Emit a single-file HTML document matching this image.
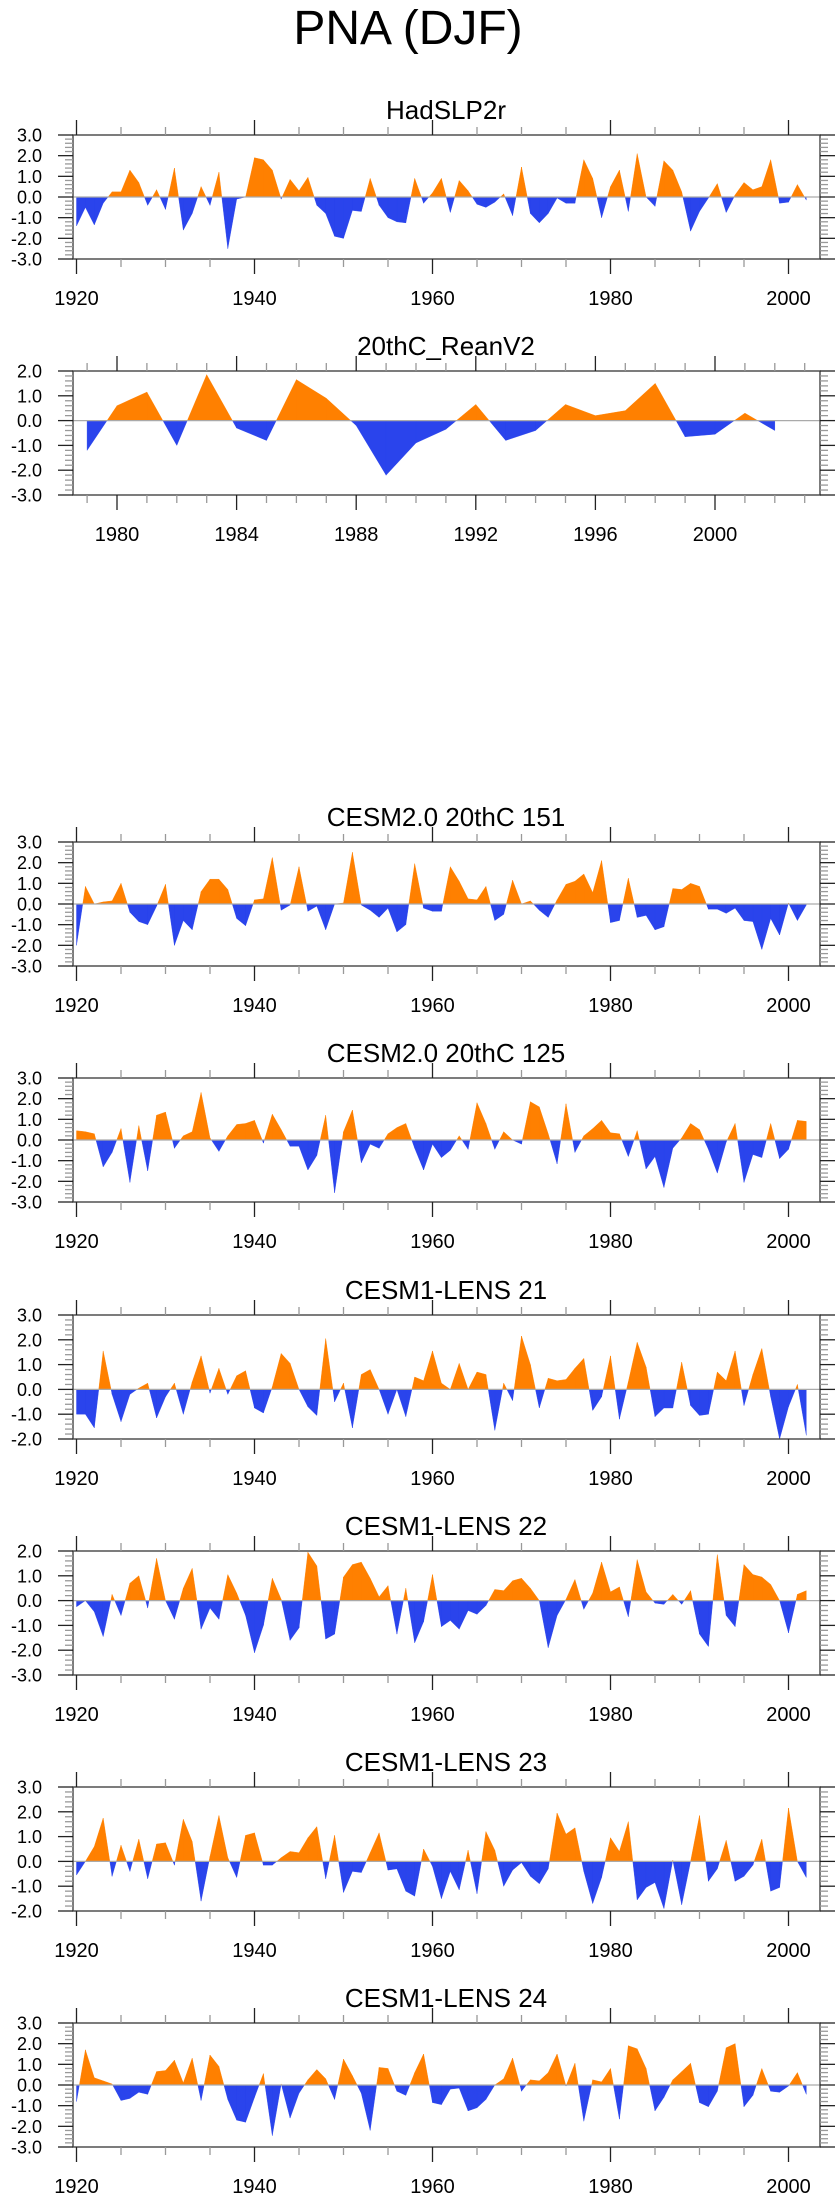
<!DOCTYPE html>
<html><head><meta charset="utf-8"><style>
body{margin:0;background:#fff;}
svg{display:block;font-family:"Liberation Sans",sans-serif;}
</style></head><body>
<svg id="fig" width="840" height="2200" viewBox="0 0 840 2200" xmlns="http://www.w3.org/2000/svg">
<text x="408" y="44" font-size="48" text-anchor="middle" fill="#000">PNA (DJF)</text>
</svg>
<script>
const titles = ["HadSLP2r","20thC_ReanV2","CESM2.0 20thC 151","CESM2.0 20thC 125","CESM1-LENS 21","CESM1-LENS 22","CESM1-LENS 23","CESM1-LENS 24"];
const startYears = [1920,1979,1920,1920,1920,1920,1920,1920];
const yMins = [-3,-3,-3,-3,-2,-3,-2,-3];
const yMaxs = [3,2,3,3,3,2,3,3];
const had = [-1.4,-0.5,-1.35,-0.3,0.25,0.25,1.3,0.7,-0.4,0.35,-0.6,1.4,-1.6,-0.8,0.5,-0.4,1.2,-2.5,-0.1,0.0,1.9,1.8,1.3,-0.1,0.85,0.3,0.95,-0.4,-0.8,-1.9,-2.0,-0.65,-0.7,0.9,-0.4,-1.0,-1.2,-1.25,0.9,-0.3,0.2,0.9,-0.75,0.8,0.3,-0.35,-0.5,-0.25,0.15,-0.9,1.45,-0.8,-1.25,-0.8,-0.05,-0.3,-0.3,1.8,0.9,-1.0,0.5,1.3,-0.7,2.1,0.0,-0.45,1.75,1.3,0.25,-1.65,-0.7,-0.05,0.65,-0.75,0.1,0.7,0.35,0.5,1.8,-0.3,-0.25,0.6,-0.15];
const rean = [-1.2,0.6,1.15,-1.0,1.85,-0.3,-0.8,1.65,0.9,-0.2,-2.2,-0.9,-0.35,0.65,-0.8,-0.4,0.65,0.2,0.4,1.5,-0.65,-0.55,0.3,-0.4];
const c151 = [-2.0,0.85,0.0,0.1,0.15,1.0,-0.4,-0.85,-1.0,-0.1,0.95,-2.0,-0.8,-1.25,0.6,1.2,1.2,0.7,-0.7,-1.05,0.2,0.25,2.25,-0.3,-0.05,1.8,-0.35,-0.1,-1.25,0.0,0.05,2.5,-0.05,-0.3,-0.65,-0.2,-1.35,-1.0,1.95,-0.2,-0.35,-0.35,1.8,1.1,0.25,0.2,0.85,-0.8,-0.5,1.15,0.0,0.15,-0.3,-0.65,0.2,0.95,1.1,1.45,0.55,2.1,-0.9,-0.8,1.25,-0.65,-0.55,-1.25,-1.1,0.75,0.7,1.0,0.85,-0.25,-0.25,-0.45,-0.2,-0.8,-0.85,-2.2,-0.7,-1.5,0.05,-0.8,-0.05];
const c125 = [0.45,0.4,0.3,-1.3,-0.6,0.55,-2.05,0.7,-1.5,1.2,1.35,-0.4,0.2,0.4,2.3,0.1,-0.55,0.2,0.75,0.8,0.95,-0.15,1.25,0.5,-0.3,-0.3,-1.45,-0.75,1.2,-2.55,0.4,1.45,-1.1,-0.2,-0.4,0.3,0.6,0.8,-0.4,-1.45,-0.2,-0.85,-0.5,0.2,-0.45,1.8,0.8,-0.45,0.4,0.0,-0.2,1.85,1.6,0.3,-1.15,1.75,-0.6,0.2,0.55,0.95,0.35,0.3,-0.8,0.45,-1.4,-0.8,-2.3,-0.4,0.1,0.8,0.5,-0.45,-1.6,-0.1,0.8,-2.05,-0.7,-0.85,0.8,-0.9,-0.45,0.95,0.9];
const l21 = [-1.0,-1.0,-1.55,1.55,-0.2,-1.3,-0.2,0.05,0.25,-1.15,-0.3,0.25,-1.0,0.3,1.35,-0.15,0.85,-0.2,0.55,0.75,-0.75,-0.95,0.1,1.45,1.05,0.0,-0.7,-1.05,2.05,-0.5,0.25,-1.55,0.6,0.8,0.0,-1.0,0.0,-1.1,0.5,0.35,1.55,0.25,0.0,1.05,0.0,0.7,0.6,-1.65,0.25,-0.45,2.15,1.0,-0.75,0.45,0.35,0.4,0.85,1.25,-0.85,-0.3,1.35,-1.2,0.3,1.9,0.9,-1.1,-0.75,-0.75,1.1,-0.65,-1.05,-1.0,0.7,0.35,1.55,-0.65,0.6,1.65,-0.3,-2.0,-0.7,0.2,-1.85];
const l22 = [-0.25,0.0,-0.45,-1.45,0.25,-0.6,0.7,1.0,-0.3,1.7,0.0,-0.75,0.5,1.3,-1.15,-0.3,-0.75,1.05,0.3,-0.6,-2.1,-1.0,0.9,0.05,-1.6,-1.1,1.95,1.4,-1.55,-1.35,0.95,1.45,1.55,0.9,0.15,0.6,-1.35,0.5,-1.7,-0.85,1.05,-1.05,-0.8,-1.15,-0.4,-0.55,-0.2,0.45,0.4,0.8,0.9,0.5,0.0,-1.9,-0.6,0.05,0.85,-0.35,0.3,1.55,0.35,0.55,-0.65,1.65,0.35,-0.1,-0.15,0.25,-0.15,0.4,-1.35,-1.85,1.85,-0.6,-1.05,1.45,1.05,0.95,0.65,0.0,-1.3,0.25,0.4];
const l23 = [-0.55,0.0,0.6,1.75,-0.6,0.65,-0.4,0.9,-0.7,0.7,0.75,-0.15,1.7,0.8,-1.6,0.2,1.85,0.15,-0.65,1.05,1.15,-0.15,-0.15,0.15,0.4,0.35,0.95,1.4,-0.7,1.05,-1.25,-0.4,-0.45,0.35,1.15,-0.35,-0.3,-1.2,-1.4,0.5,-0.2,-1.5,-0.4,-1.15,0.45,-1.3,1.2,0.45,-1.0,-0.35,-0.05,-0.6,-0.9,-0.3,1.95,1.1,1.35,-0.4,-1.7,-0.65,0.95,0.4,1.6,-1.55,-1.05,-0.85,-1.9,0.05,-1.75,0.0,1.85,-0.8,-0.3,0.85,-0.8,-0.6,-0.15,0.9,-1.2,-1.05,2.15,0.0,-0.65];
const l24 = [-0.8,1.7,0.35,0.2,0.05,-0.75,-0.65,-0.35,-0.45,0.65,0.7,1.2,0.1,1.3,-0.75,1.45,0.9,-0.7,-1.7,-1.8,-0.6,0.55,-2.45,0.05,-1.6,-0.4,0.25,0.75,0.3,-0.7,1.25,0.45,-0.4,-2.2,0.85,0.8,-0.3,-0.5,0.6,1.5,-0.85,-0.95,-0.2,-0.15,-1.25,-1.1,-0.7,0.0,0.3,1.3,-0.3,0.25,0.2,0.6,1.5,-0.05,1.05,-1.75,0.25,0.15,0.8,-1.65,1.9,1.75,0.8,-1.25,-0.6,0.25,0.65,1.05,-0.85,-1.05,-0.3,1.8,2.0,-1.05,-0.5,0.8,-0.3,-0.35,-0.05,0.6,-0.45];
const seriesList = [had,rean,c151,c125,l21,l22,l23,l24];

const NS="http://www.w3.org/2000/svg";
const svg=document.getElementById('fig');
const tops=[135,371,842,1078,1315,1551,1787,2023];
const BL=73,BR=820,BH=124;
function mk(tag,attrs,parent){const e=document.createElementNS(NS,tag);for(const k in attrs)e.setAttribute(k,attrs[k]);parent.appendChild(e);return e;}

for(let p=0;p<8;p++){
  const top=tops[p],bot=top+BH;
  const g=mk('g',{},svg);
  
  
  const isRean=(p===1);
  let x0yr,pxPerYr;
  if(isRean){x0yr=1980;pxPerYr=29.9;}else{x0yr=1920;pxPerYr=8.9;}
  const x0px=isRean?117:76.5;
  const xs=yr=>x0px+(yr-x0yr)*pxPerYr;
  const ymin=yMins[p],ymax=yMaxs[p];
  const ys=v=>bot-(v-ymin)/(ymax-ymin)*BH;
  const t=mk('text',{x:446,y:top-16,'font-size':26,'text-anchor':'middle',fill:'#000'},g);
  t.textContent=titles[p];
  
  
  const data=seriesList[p];const sy=startYears[p];
  const z=ys(0);
  let posD='',negD='';
  for(let i=0;i<data.length-1;i++){
    const xa=xs(sy+i),xb=xs(sy+i+1),va=data[i],vb=data[i+1];
    const segs=[];
    if((va>=0&&vb>=0)||(va<=0&&vb<=0)){segs.push([xa,va,xb,vb]);}
    else{const xc=xa+(xb-xa)*(va/(va-vb));segs.push([xa,va,xc,0]);segs.push([xc,0,xb,vb]);}
    for(const s of segs){
      const d=`M${s[0].toFixed(2)},${z}L${s[0].toFixed(2)},${ys(s[1]).toFixed(2)}L${s[2].toFixed(2)},${ys(s[3]).toFixed(2)}L${s[2].toFixed(2)},${z}Z`;
      if(s[1]+s[3]>=0)posD+=d;else negD+=d;
    }
  }
  const pp=mk('path',{d:posD,fill:'#ff8000',stroke:'#ff8000','stroke-width':0.4},g);
  
  
  const np=mk('path',{d:negD,fill:'#2a44ec',stroke:'#2a44ec','stroke-width':0.4},g);
  
  
  const zl=mk('line',{x1:BL,x2:BR,y1:z,y2:z,stroke:'#aaa','stroke-width':1.3},g);
  
  
  const bx=mk('rect',{x:BL,y:top,width:BR-BL,height:BH,fill:'none',stroke:'#444','stroke-width':1.4},g);
  
  
  let yrStart=isRean?1979:1920, yrEnd=2003, minorStep=isRean?1:5, majorStep=isRean?4:20;
  for(let yr=yrStart;yr<=yrEnd;yr+=minorStep){
    const x=xs(yr);if(x<BL||x>BR)continue;
    const major=((yr-x0yr)%majorStep===0);
    const L=major?15:8,col=major?'#222':'#999';
    mk('line',{x1:x,x2:x,y1:top,y2:top-L,stroke:col,'stroke-width':1.3},g);
    mk('line',{x1:x,x2:x,y1:bot,y2:bot+L,stroke:col,'stroke-width':1.3},g);
    if(major){
      const lt=mk('text',{x:x,y:bot+46,'font-size':20,'text-anchor':'middle',fill:'#000'},g);
      lt.textContent=String(yr);
      
      
    }
  }
  for(let k=0;k<=(ymax-ymin)*5;k++){
    const v=ymin+k*0.2;const y=ys(v);
    const major=(k%5===0);
    const L=major?15:8,col=major?'#222':'#999';
    mk('line',{x1:BL,x2:BL-L,y1:y,y2:y,stroke:col,'stroke-width':1.3},g);
    mk('line',{x1:BR,x2:BR+L,y1:y,y2:y,stroke:col,'stroke-width':1.3},g);
    if(major){
      const yt=mk('text',{x:42,y:y+6.5,'font-size':18,'text-anchor':'end',fill:'#000'},g);
      yt.textContent=(Math.round(v)).toFixed(1);
      
      
    }
  }
}
</script>
</body></html>
